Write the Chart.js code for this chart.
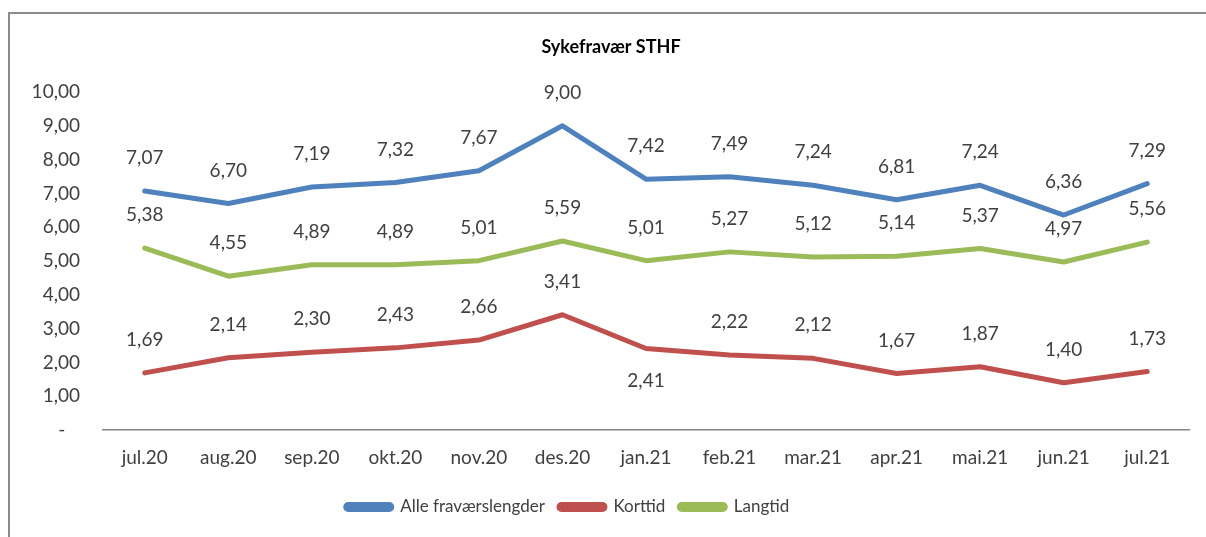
<!DOCTYPE html>
<html lang="no">
<head>
  <meta charset="UTF-8">
  <title>Sykefravær STHF</title>
  <script src="https://cdn.jsdelivr.net/npm/chart.js"></script>
  <style>
    body {
      margin: 0;
      padding: 0;
      background: #ffffff;
      font-family: 'Lato', sans-serif;
    }
    .wrap {
      position: relative;
      width: 1206px;
      height: 537px;
      overflow: hidden;
    }
    .frame {
      position: absolute;
      left: 8px;
      top: 12px;
      width: 1300px;
      height: 700px;
      border-left: 2px solid #8c8c8c;
      border-top: 2px solid #8c8c8c;
    }
    canvas {
      position: absolute;
      left: 0;
      top: 0;
    }
  </style>
</head>
<body>
  <div class="wrap">
    <div class="frame"></div>
    <canvas id="chart" width="1206" height="537"></canvas>
  </div>

  <script>
    const chartTitle = 'Sykefravær STHF';

    // måneder
    const months = ['jul.20', 'aug.20', 'sep.20', 'okt.20', 'nov.20', 'des.20', 'jan.21',
                    'feb.21', 'mar.21', 'apr.21', 'mai.21', 'jun.21', 'jul.21'];

    // fravær i prosent
    const alleValues = [7.07, 6.70, 7.19, 7.32, 7.67, 9.00, 7.42, 7.49, 7.24, 6.81, 7.24, 6.36, 7.29];
    const korttidValues = [1.69, 2.14, 2.30, 2.43, 2.66, 3.41, 2.41, 2.22, 2.12, 1.67, 1.87, 1.40, 1.73];
    const langtidValues = [5.38, 4.55, 4.89, 4.89, 5.01, 5.59, 5.01, 5.27, 5.12, 5.14, 5.37, 4.97, 5.56];

    const textColor = '#404040';
    const fontFamily = 'Lato, sans-serif';

    function formatNo(v) {
      return v.toFixed(2).replace('.', ',');
    }

    // tittel, litt til høyre for midten som i Excel-arket
    const titlePlugin = {
      id: 'sheetTitle',
      afterDraw(chart) {
        const ctx = chart.ctx;
        ctx.save();
        ctx.font = 'bold 18px ' + fontFamily;
        ctx.fillStyle = '#000000';
        ctx.textAlign = 'center';
        ctx.textBaseline = 'middle';
        ctx.fillText(chartTitle, 611, 47);
        ctx.restore();
      }
    };

    // legenden står litt til venstre i originalen
    const legendShift = {
      id: 'legendShift',
      afterLayout(chart) {
        chart.legend.left -= 31;
        chart.legend.right -= 31;
      }
    };

    // verdier over/under punktene
    const pointLabels = {
      id: 'pointLabels',
      afterDatasetsDraw(chart) {
        const ctx = chart.ctx;
        ctx.save();
        ctx.font = '19px ' + fontFamily;
        ctx.fillStyle = textColor;
        ctx.textAlign = 'center';
        ctx.textBaseline = 'middle';
        chart.data.datasets.forEach((ds, i) => {
          const meta = chart.getDatasetMeta(i);
          meta.data.forEach((pt, j) => {
            const below = (ds.labelBelow || []).includes(chart.data.labels[j]);
            const y = below ? pt.y + 32 : pt.y - 33;
            ctx.fillText(formatNo(ds.data[j]), pt.x, y);
          });
        });
        ctx.restore();
      }
    };

    new Chart(document.getElementById('chart'), {
      type: 'line',
      data: {
        labels: months,
        datasets: [
          {
            label: 'Alle fraværslengder',
            data: alleValues,
            borderColor: '#4F81BD',
            backgroundColor: '#4F81BD'
          },
          {
            label: 'Korttid',
            data: korttidValues,
            borderColor: '#C0504D',
            backgroundColor: '#C0504D',
            labelBelow: ['jan.21']
          },
          {
            label: 'Langtid',
            data: langtidValues,
            borderColor: '#9BBB59',
            backgroundColor: '#9BBB59'
          }
        ]
      },
      options: {
        responsive: false,
        animation: false,
        events: [],
        layout: {
          padding: { left: 8, right: 17, top: 92, bottom: 11.5 }
        },
        elements: {
          line: { borderWidth: 5, tension: 0, borderJoinStyle: 'round', borderCapStyle: 'round' },
          point: { radius: 0 }
        },
        plugins: {
          title: { display: false },
          legend: {
            position: 'bottom',
            labels: {
              color: textColor,
              font: { family: fontFamily, size: 17 },
              boxWidth: 46,
              boxHeight: 5,
              useBorderRadius: true,
              borderRadius: 2.5,
              padding: 14
            }
          },
          tooltip: { enabled: false }
        },
        scales: {
          x: {
            offset: true,
            grid: { display: false, drawTicks: false },
            border: { display: true, color: '#868686', width: 1.5 },
            ticks: {
              color: textColor,
              font: { family: fontFamily, size: 19 },
              padding: 16,
              maxRotation: 0
            },
            afterFit(scale) { scale.height = 54.5; }
          },
          y: {
            min: 0,
            max: 10,
            grid: { display: false, drawTicks: false },
            border: { display: false },
            ticks: {
              stepSize: 1,
              color: textColor,
              font: { family: fontFamily, size: 19 },
              padding: 23,
              callback: v => v === 0 ? '-   ' : formatNo(v)
            },
            afterFit(scale) { scale.width = 95; }
          }
        }
      },
      plugins: [pointLabels, titlePlugin, legendShift]
    });
  </script>
</body>
</html>
